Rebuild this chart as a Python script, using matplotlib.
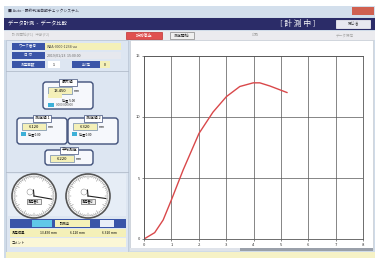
import matplotlib
matplotlib.use("Agg")
import matplotlib.pyplot as plt
import numpy as np
from matplotlib.patches import Rectangle, FancyBboxPatch, Circle

plt.rcParams['font.family'] = ['Noto Sans CJK JP', 'DejaVu Sans']

# ---- chart data ----
x_vals = [0.0, 0.39, 0.70, 1.0, 1.43, 2.01, 2.52, 3.01, 3.5, 3.99, 4.23, 4.6, 5.23]
y_vals = [0.0, 0.52, 1.56, 3.2, 5.66, 8.66, 10.4, 11.67, 12.5, 12.8, 12.8, 12.54, 12.0]
x_ticks = [0, 1, 2, 3, 4, 5, 6, 7, 8]
y_ticks = [0, 5, 10, 15]

W, H = 375, 264
fig = plt.figure(figsize=(W / 100, H / 100), dpi=100)
fig.patch.set_facecolor('white')

ui = fig.add_axes([0, 0, 1, 1])
ui.set_xlim(0, W)
ui.set_ylim(H, 0)
ui.axis('off')

def rect(x, y, w, h, fc, ec='none', lw=0.5, z=1):
    ui.add_patch(Rectangle((x, y), w, h, facecolor=fc, edgecolor=ec, linewidth=lw, zorder=z))

def txt(x, y, s, size=3.2, color='black', ha='left', z=5, weight='normal'):
    ui.text(x, y, s, fontsize=size, color=color, ha=ha, va='center', zorder=z, weight=weight)

# window frame
rect(4, 6, 371, 252, '#cfdbe8')
# title bar
rect(4, 6, 371, 11, '#d3dfec')
txt(8, 11.5, '■ Auto - 最終判定自動チェックシステム', size=2.8, color='#333344')
rect(352, 7, 22, 8, '#d06050')
# navy bar
rect(4, 18, 371, 12, '#2b2c68')
txt(8, 24, 'データ計測  -  データ比較', size=3.8, color='white')
txt(298, 24, '[ 計 測 中 ]', size=5.6, color='white', ha='center')
rect(336, 20, 34, 8, '#e8e8f0', ec='#ffffff')
txt(353, 24, '閉じる', size=2.8, color='#333', ha='center')
# toolbar
rect(4, 31, 371, 9, '#ebebef')
txt(12, 35.5, '計測開始(F1)   中断(F2)', size=2.6, color='#aaaaaa')
rect(126, 32, 36, 7, '#e05050', ec='#c03030')
txt(144, 35.5, '計測停止', size=3.0, color='white', ha='center')
rect(170, 32, 24, 7, '#f0f0f0', ec='#888888')
txt(182, 35.5, '測定開始', size=2.8, color='#222', ha='center')
txt(255, 35.5, '印刷', size=2.6, color='#aaaaaa', ha='center')
txt(345, 35.5, 'データ保存', size=2.6, color='#aaaaaa', ha='center')

# left panel
rect(6, 40, 122, 214, '#dde6f2', ec='#b8c4d4')
rect(12, 43, 33, 7, '#3a55a8')
txt(28, 46.5, 'ワーク番号', size=2.6, color='white', ha='center')
rect(45, 43, 76, 7, '#f4f0b8')
txt(47, 46.5, 'WAA-0000-1234-aa', size=2.6, color='#444')
rect(12, 52, 33, 7, '#3a55a8')
txt(28, 55.5, '日 付', size=2.6, color='white', ha='center')
rect(45, 52, 76, 7, '#e6e8ee')
txt(47, 55.5, '2019/01/23  15:00:00', size=2.6, color='#666')
rect(12, 61, 33, 7, '#3a55a8')
txt(28, 64.5, '測定回数', size=2.6, color='white', ha='center')
rect(48, 61, 12, 7, '#ffffff')
txt(54, 64.5, '1', size=2.6, ha='center')
rect(72, 61, 28, 7, '#3a55a8')
txt(86, 64.5, '判 定', size=2.6, color='white', ha='center')
rect(100, 61, 10, 7, '#f4f0b8')
txt(105, 64.5, '0', size=2.6, ha='center')
ui.plot([6, 128], [71, 71], color='#aab4c4', lw=0.5, zorder=2)

def box(x, y, w, h, title, value):
    ui.add_patch(FancyBboxPatch((x, y), w, h, boxstyle='round,pad=0,rounding_size=3',
                                facecolor='#f6f8fc', edgecolor='#40507a', linewidth=1.0, zorder=2))
    rect(x + w / 2 - 9, y - 3.5, 18, 7, '#ffffff', ec='#40507a', lw=0.5, z=3)
    txt(x + w / 2, y, title, size=2.8, ha='center')
    rect(x + 5, y + 5, 24, 7, '#f4f0b8', ec='#5070a0', lw=0.4, z=3)
    txt(x + 17, y + 8.5, value, size=3.0, ha='center')
    txt(x + 31, y + 8.5, 'mm', size=2.4)

box(43, 82, 50, 27, '最大値', '13.450')
rect(48, 94, 14, 4, '#f4f0b8', z=3)
txt(62, 100, '位置  5.00', size=2.2)
rect(48, 103, 6, 4, '#3cb0d8', z=3)
txt(56, 105, '0000 000000', size=2.2, color='#555')
box(17, 118, 50, 26, '測定値 1', '6.120')
rect(21, 132, 5, 4, '#3cb0d8', z=3)
txt(28, 134, '位置 0.00', size=2.2)
box(68, 118, 50, 26, '測定値 2', '6.320')
rect(72, 132, 5, 4, '#3cb0d8', z=3)
txt(79, 134, '位置 0.00', size=2.2)
box(45, 150, 48, 15, '平均測定', '6.220')

ui.plot([6, 128], [172, 172], color='#aab4c4', lw=0.5, zorder=2)
rect(8, 174, 118, 42, '#e6edf6')

def gauge(cx, cy, r, label, ang):
    ui.add_patch(Circle((cx, cy), r, facecolor='white', edgecolor='#555555', linewidth=1.2, zorder=3))
    ui.add_patch(Circle((cx, cy), r - 2, facecolor='none', edgecolor='#bbbbbb', linewidth=0.4, zorder=3))
    for k in range(60):
        t = np.deg2rad(90 - k * 6)
        l = 3 if k % 5 == 0 else 1.4
        ui.plot([cx + (r - 2) * np.cos(t), cx + (r - 2 - l) * np.cos(t)],
                [cy - (r - 2) * np.sin(t), cy - (r - 2 - l) * np.sin(t)],
                color='#666666', lw=0.3, zorder=4)
    rect(cx - 7, cy + 3, 14, 5, '#eeeeee', ec='#444', lw=0.4, z=4)
    txt(cx, cy + 5.5, label, size=2.3, ha='center', z=6)
    t = np.deg2rad(ang)
    ui.plot([cx, cx + (r - 4) * np.cos(t)], [cy, cy - (r - 4) * np.sin(t)],
            color='#222222', lw=0.8, zorder=5)
    ui.plot([cx, cx + 6 * np.cos(np.deg2rad(95))], [cy, cy - 6 * np.sin(np.deg2rad(95))],
            color='#222222', lw=0.8, zorder=5)
    ui.add_patch(Circle((cx - 4, cy - 4), 3, facecolor='none', edgecolor='#777', linewidth=0.3, zorder=4))

gauge(34, 196, 22, '測定器1', -10)
gauge(88, 196, 22, '測定器2', -8)

rect(10, 219, 116, 9, '#3a55a8')
rect(32, 220, 20, 7, '#60c8e8')
rect(55, 220, 35, 7, '#f4f0b8')
txt(60, 223.5, '計測中', size=2.4)
rect(100, 220, 14, 7, '#e8eef8')
rect(10, 229, 116, 8, '#f4f0b8')
txt(12, 233, '測定結果', size=2.4)
txt(40, 233, '13.450 mm', size=2.4)
txt(70, 233, '6.120 mm', size=2.4)
txt(102, 233, '6.320 mm', size=2.4)
rect(10, 238, 116, 9, '#fbf7d6')
txt(12, 242.5, 'コメント', size=2.4)

# right panel
rect(130, 40, 243, 209, '#ffffff', ec='#c8ccd4')
rect(130, 248, 243, 3, '#9aa0aa')
rect(130, 248, 110, 3, '#dfe3ea')
rect(6, 252, 369, 6, '#f6f2c6')
rect(4, 258, 371, 6, '#ffffff')

# ---- chart ----
ax = fig.add_axes([144 / W, (H - 239) / H, (363 - 144) / W, (239 - 56) / H])
ax.set_facecolor('white')
ax.plot(x_vals, y_vals, color='#d9484a', lw=1.0, solid_capstyle='round')
ax.set_xlim(min(x_ticks), max(x_ticks))
ax.set_ylim(min(y_ticks), max(y_ticks))
ax.set_xticks(x_ticks)
ax.set_yticks(y_ticks)
ax.grid(True, color='#555555', lw=0.5)
ax.tick_params(labelsize=3, length=1.5, width=0.4, pad=1.5, colors='#333333')
for s in ax.spines.values():
    s.set_color('#555555')
    s.set_linewidth(0.6)

fig.savefig('out.png', dpi=100)
